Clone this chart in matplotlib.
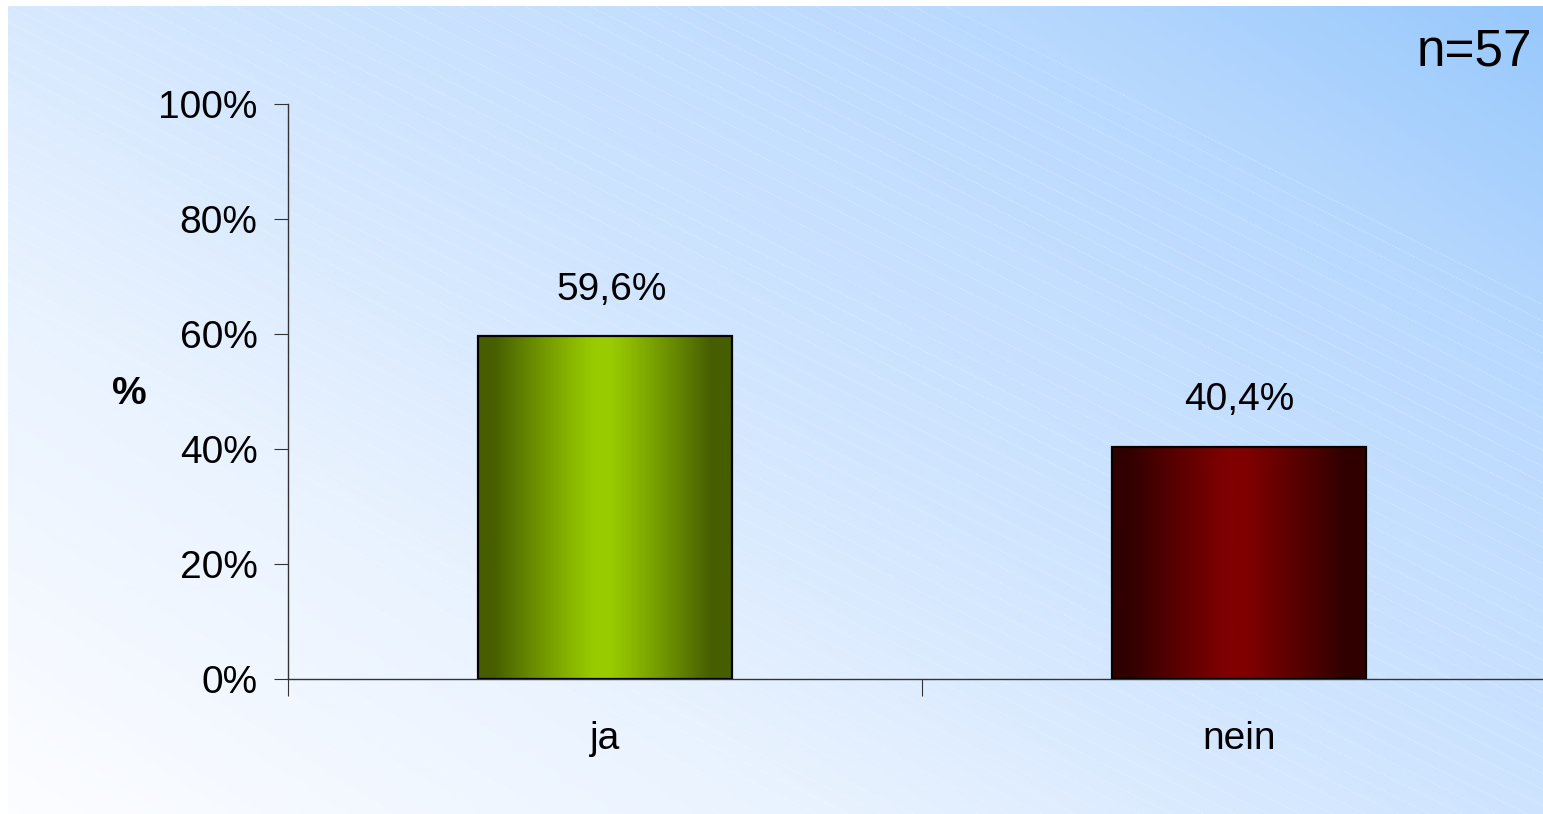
import numpy as np
import matplotlib.pyplot as plt
from matplotlib.colors import LinearSegmentedColormap

plt.rcParams['font.family'] = ['Liberation Sans', 'DejaVu Sans']

categories = ['ja', 'nein']
values = [59.6, 40.4]
value_labels = ['59,6%', '40,4%']
yticks = [0, 20, 40, 60, 80, 100]
ytick_labels = ['0%', '20%', '40%', '60%', '80%', '100%']
n_label = 'n=57'

W, H = 1543, 814
fig = plt.figure(figsize=(W / 100, H / 100), dpi=100)

# background panel: diagonal gradient plus faint stripes
bg = fig.add_axes([8 / W, 0, 1 - 8 / W, (H - 6) / H])
bg.set_axis_off()
gx, gy = np.meshgrid(np.linspace(0, 1, 400), np.linspace(0, 1, 220))
t = np.clip(0.55 * gx + 0.45 * gy, 0, 1)
bg_cmap = LinearSegmentedColormap.from_list(
    'bg', [(0, '#fcfdff'), (0.3, '#e8f2ff'), (0.5, '#d2e6fe'), (0.8, '#b9d9fe'), (1, '#98c8fc')])
bg.imshow(t, cmap=bg_cmap, origin='lower', extent=(0, 1, 0, 1), aspect='auto', vmin=0, vmax=1)
for c in np.arange(-0.6, 1.6, 0.02):
    xs = np.array([0, 1])
    bg.plot(xs, c - 0.95 * xs, color='white', lw=0.7, alpha=0.3, ls=(0, (2, 1.5)))
bg.set_xlim(0, 1)
bg.set_ylim(0, 1)

ax = fig.add_axes([288 / W, (H - 679) / H, (1556 - 288) / W, (679 - 104) / H])
ax.patch.set_alpha(0)

x = np.arange(len(categories))
width = 0.4
bar_maps = [
    LinearSegmentedColormap.from_list('g', ['#465e00', '#99cc00']),
    LinearSegmentedColormap.from_list('r', ['#300000', '#800000']),
]
u = np.linspace(0, 1, 300)
d = np.clip((np.abs(u - 0.49) - 0.03) / 0.40, 0, 1)
prof = 1 - d ** 1.1
for xi, v, cm in zip(x, values, bar_maps):
    ax.imshow(prof[None, :], cmap=cm, aspect='auto', vmin=0, vmax=1,
              extent=(xi - width / 2, xi + width / 2, 0, v), zorder=2)
ax.bar(x, values, width, facecolor='none', edgecolor='black', linewidth=1.6, zorder=3)

for xi, v, lab in zip(x, values, value_labels):
    ax.text(xi + (0.01 if xi == 0 else 0), v + 5, lab, ha='center', va='bottom', fontsize=28)

ax.set_xlim(-0.5, 1.5)
ax.set_ylim(0, 100)
ax.set_yticks(yticks)
ax.set_yticklabels(ytick_labels, fontsize=28)
ax.set_xticks(x)
ax.set_xticklabels(categories, fontsize=28)
ax.set_xticks([-0.5, 0.5], minor=True)
ax.tick_params(axis='x', which='major', length=0, pad=30)
ax.tick_params(axis='x', which='minor', length=12, width=0.8, color='#333333')
ax.tick_params(axis='y', length=10, width=0.8, color='#333333', pad=12)
for s in ['top', 'right']:
    ax.spines[s].set_visible(False)
for s in ['left', 'bottom']:
    ax.spines[s].set_color('#333333')
    ax.spines[s].set_linewidth(1.0)
ax.set_ylabel('%', fontsize=28, fontweight='bold', rotation=0, va='center', ha='center')
ax.yaxis.set_label_coords(-0.125, 0.495)

fig.text(1532 / W, 1 - 52 / H, n_label, ha='right', va='center', fontsize=37)

fig.savefig('out.png', dpi=100)
